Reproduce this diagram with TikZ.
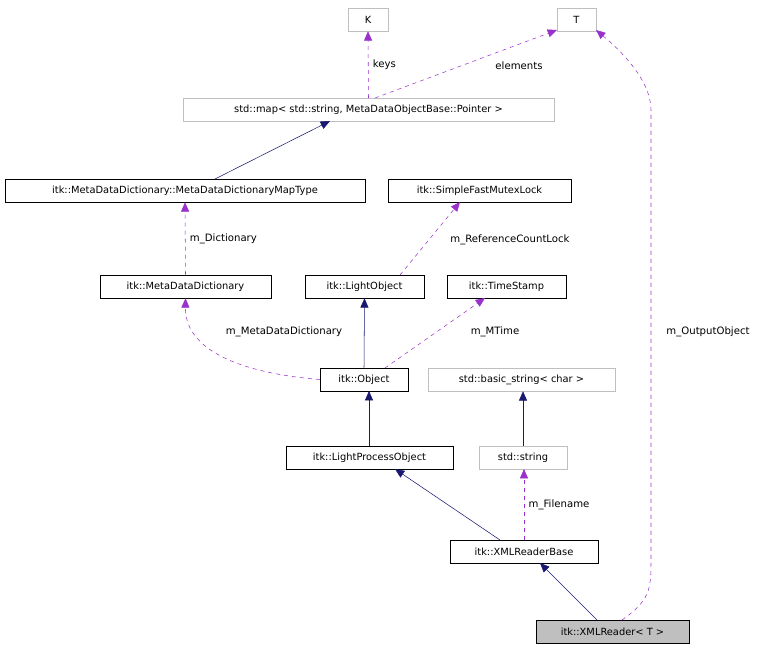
\documentclass[tikz,border=0pt]{standalone}
\usepackage{fontspec}
\setmainfont{DejaVu Sans}
\usetikzlibrary{arrows.meta}
\definecolor{navy}{RGB}{25,25,112}
\definecolor{orchid}{RGB}{153,50,204}
\definecolor{lgray}{RGB}{191,191,191}
\begin{document}
\begin{tikzpicture}[x=0.75pt,y=-0.75pt,
  cls/.style={draw=black,fill=white,inner sep=0pt,minimum height=17.25pt,font=\fontsize{7.4}{8}\selectfont},
  ext/.style={cls,draw=lgray},
  inh/.style={navy,-{Triangle[width=6pt,length=7pt]}},
  use/.style={orchid,dashed,-{Triangle[width=6pt,length=7pt]}},
  lab/.style={text=black,font=\fontsize{7.6}{8}\selectfont}]
\useasboundingbox (0,0) rectangle (768,653);
\node[ext,minimum width=30pt] (K) at (368,19.5) {K};
\node[ext,minimum width=29pt] (T) at (576.5,19.5) {T};
\node[ext,minimum width=278pt] (map) at (368.5,110) {std::map< std::string, MetaDataObjectBase::Pointer >};
\node[cls,minimum width=270pt] (mt) at (185,190.5) {itk::MetaDataDictionary::MetaDataDictionaryMapType};
\node[cls,minimum width=137pt] (sfm) at (479.5,190.5) {itk::SimpleFastMutexLock};
\node[cls,minimum width=128pt] (mdd) at (185.5,286.5) {itk::MetaDataDictionary};
\node[cls,minimum width=89pt] (lo) at (364.5,286.5) {itk::LightObject};
\node[cls,minimum width=89pt] (ts) at (506.5,286.5) {itk::TimeStamp};
\node[cls,minimum width=66pt] (obj) at (364,379.5) {itk::Object};
\node[ext,minimum width=140pt] (bs) at (521.5,379.5) {std::basic\_string< char >};
\node[cls,minimum width=125pt] (lpo) at (369.5,457.5) {itk::LightProcessObject};
\node[ext,minimum width=66pt] (ss) at (523,457.5) {std::string};
\node[cls,minimum width=111pt] (xrb) at (524,551.5) {itk::XMLReaderBase};
\node[cls,fill=lgray,minimum width=115pt] (xr) at (612.5,631.5) {itk::XMLReader< T >};

\draw[use] (map.north) -- (K.south) node[lab,pos=0.5,right] {keys};
\draw[use] (375,98) -- (557,30);
\node[lab] at (519,66) {elements};
\draw[inh] (215,179) -- (330,121);
\draw[use] (mdd.north) -- (mt.south) node[lab,pos=0.5,right] {m\_Dictionary};
\draw[use] (400,275) -- (460,202);
\node[lab] at (510,240) {m\_ReferenceCountLock};
\draw[use] (obj.west) .. controls (240,373) and (185,350) .. (mdd.south);
\node[lab] at (284,332) {m\_MetaDataDictionary};
\draw[inh] (obj.north) -- (lo.south);
\draw[use] (385,368) -- (485,298);
\node[lab] at (495,332) {m\_MTime};
\draw[inh] (369,446) -- (369,391);
\draw[inh] (ss.north) -- (ss.north |- bs.south);
\draw[inh] (500,540) -- (395,469);
\draw[use] (524,540) -- (524,469) node[lab,pos=0.5,right] {m\_Filename};
\draw[inh] (597,620) -- (540,563);
\draw[use] (622,620) .. controls (650,600) and (651,590) .. (651,560) -- (651,110) .. controls (651,80) and (620,50) .. (596,30);
\node[lab] at (708,332) {m\_OutputObject};
\end{tikzpicture}
\end{document}
